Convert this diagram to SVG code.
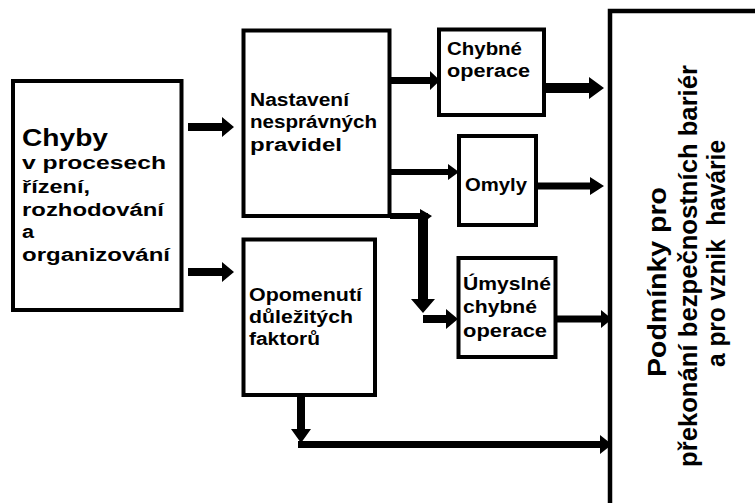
<svg xmlns="http://www.w3.org/2000/svg" width="755" height="503" viewBox="0 0 755 503">
<style>
.box{fill:#fff;stroke:#000;stroke-width:4}
.t{font-family:"Liberation Sans",Arial,sans-serif;font-weight:bold;font-size:18px;fill:#000}
.big{font-size:23px}
.rot{font-size:26px;white-space:pre}
.c{fill:#000}
</style>
<rect width="755" height="503" fill="#fff"/>
<g id="chyby">
<rect class="box" x="13" y="81" width="168.5" height="229"/>
<text class="t big" x="22" y="146" textLength="86" lengthAdjust="spacingAndGlyphs">Chyby</text>
<text class="t" x="22" y="169" textLength="144" lengthAdjust="spacingAndGlyphs">v procesech</text>
<text class="t" x="22" y="192.5" textLength="68" lengthAdjust="spacingAndGlyphs">řízení,</text>
<text class="t" x="22" y="215.5" textLength="142" lengthAdjust="spacingAndGlyphs">rozhodování</text>
<text class="t" x="22" y="238" textLength="12" lengthAdjust="spacingAndGlyphs">a</text>
<text class="t" x="22" y="260.5" textLength="148" lengthAdjust="spacingAndGlyphs">organizování</text>
</g>
<g id="nastaveni">
<rect class="box" x="243.5" y="30.5" width="146" height="185.5"/>
<text class="t" x="250" y="106" textLength="99" lengthAdjust="spacingAndGlyphs">Nastavení</text>
<text class="t" x="250" y="128.3" textLength="127" lengthAdjust="spacingAndGlyphs">nesprávných</text>
<text class="t" x="250" y="150.5" textLength="92" lengthAdjust="spacingAndGlyphs">pravidel</text>
</g>
<g id="opomenuti">
<rect class="box" x="243.5" y="239.5" width="131.5" height="155.5"/>
<text class="t" x="249" y="300.7" textLength="113" lengthAdjust="spacingAndGlyphs">Opomenutí</text>
<text class="t" x="249" y="322.7" textLength="104" lengthAdjust="spacingAndGlyphs">důležitých</text>
<text class="t" x="249" y="345" textLength="71" lengthAdjust="spacingAndGlyphs">faktorů</text>
</g>
<g id="chybne-operace">
<rect class="box" x="439" y="29.5" width="105" height="85.5"/>
<text class="t" x="447" y="55" textLength="75" lengthAdjust="spacingAndGlyphs">Chybné</text>
<text class="t" x="447" y="76.7" textLength="83" lengthAdjust="spacingAndGlyphs">operace</text>
</g>
<g id="omyly">
<rect class="box" x="459" y="136" width="77" height="89"/>
<text class="t" x="465" y="191" textLength="62" lengthAdjust="spacingAndGlyphs">Omyly</text>
</g>
<g id="umyslne">
<rect class="box" x="458.5" y="258" width="97" height="99"/>
<text class="t" x="463" y="290" textLength="88" lengthAdjust="spacingAndGlyphs">Úmyslné</text>
<text class="t" x="463" y="313" textLength="74" lengthAdjust="spacingAndGlyphs">chybné</text>
<text class="t" x="463" y="336.7" textLength="84" lengthAdjust="spacingAndGlyphs">operace</text>
</g>
<g id="podminky">
<path d="M610,503 V11 H755" fill="none" stroke="#000" stroke-width="4.5"/>
<text class="t rot" text-anchor="middle" transform="translate(666,282) rotate(-90)" textLength="190" lengthAdjust="spacingAndGlyphs">Podmínky pro</text>
<text class="t rot" text-anchor="middle" transform="translate(697,266) rotate(-90)" textLength="402" lengthAdjust="spacingAndGlyphs">překonání bezpečnostních bariér</text>
<text class="t rot" text-anchor="middle" transform="translate(725,253.5) rotate(-90)" textLength="227" lengthAdjust="spacingAndGlyphs">a pro vznik  havárie</text>
</g>
<g id="connectors">
<path class="c" d="M188,123 H222 V117 L234,127 L222,137 V131 H188 Z"/>
<path class="c" d="M188,268 H222 V262 L234,272 L222,282 V276 H188 Z"/>
<path class="c" d="M390,77 H430 V71 L440,80.5 L430,90 V84 H390 Z"/>
<path class="c" d="M390,169 H448 V164 L459,172 L448,180 V175 H390 Z"/>
<path class="c" d="M545,83 H589 V77 L604,88 L589,99 V93 H545 Z"/>
<path class="c" d="M536,182.5 H590 V177 L604,186 L590,195 V189.5 H536 Z"/>
<path class="c" d="M390,213 H420 V209 L432,216 L428,219 H390 Z"/>
<path class="c" d="M418,213 H428 V299 H435 L423,313 L411,299 H418 Z"/>
<path class="c" d="M423,315 H446 V309 L458,319 L446,329 V323 H423 Z"/>
<path class="c" d="M556,315.5 H601 V310 L612,319 L601,328 V322.5 H556 Z"/>
<path class="c" d="M297,395 H305 V429 H311 L301,443 L291,429 H297 Z"/>
<path class="c" d="M298,441 H600 V435 L612,444.5 L600,454 V448 H298 Z"/>
</g>
</svg>
